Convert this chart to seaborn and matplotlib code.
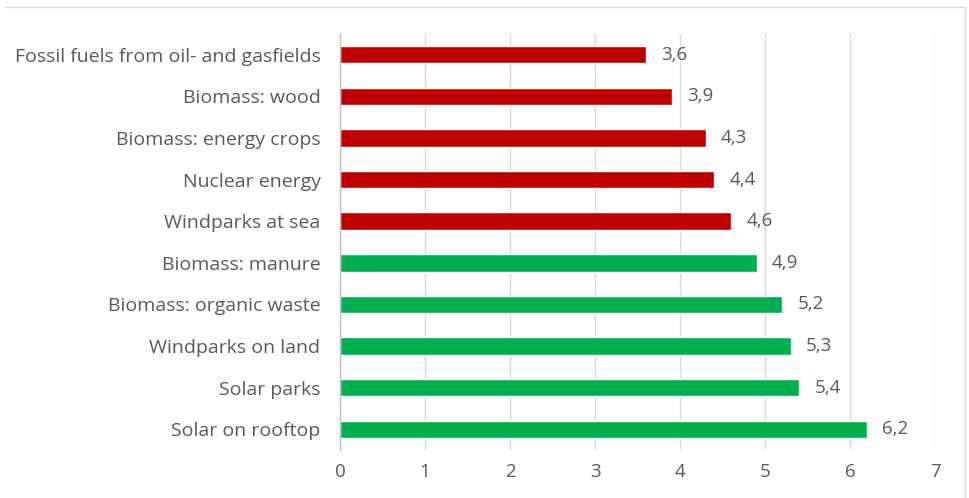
import matplotlib
matplotlib.use("Agg")
import matplotlib.pyplot as plt
import seaborn as sns
import pandas as pd
from matplotlib.lines import Line2D

categories = [
    "Fossil fuels from oil- and gasfields",
    "Biomass: wood",
    "Biomass: energy crops",
    "Nuclear energy",
    "Windparks at sea",
    "Biomass: manure",
    "Biomass: organic waste",
    "Windparks on land",
    "Solar parks",
    "Solar on rooftop",
]
values = [3.6, 3.9, 4.3, 4.4, 4.6, 4.9, 5.2, 5.3, 5.4, 6.2]
groups = ["low"] * 5 + ["high"] * 5
x_ticks = [0, 1, 2, 3, 4, 5, 6, 7]

df = pd.DataFrame({"category": categories, "value": values, "group": groups})

sns.set_style("white")
plt.rcParams["font.family"] = ["Open Sans", "DejaVu Sans"]

fig = plt.figure(figsize=(9.7, 4.98), dpi=100)
ax = fig.add_axes([0.3505, 0.096, 0.6135, 0.836])

sns.barplot(data=df, y="category", x="value", hue="group",
            palette={"low": "#C00000", "high": "#00B050"},
            order=categories, dodge=False, width=0.42, legend=False, ax=ax,
            saturation=1)

ax.set_xlim(0, 7)
ax.set_ylim(9.5, -0.5)
ax.set_xticks(x_ticks)
ax.set_xticklabels([str(t) for t in x_ticks])
ax.set_xlabel("")
ax.set_ylabel("")
ax.grid(axis="x", color="#D9D9D9", linewidth=1)
ax.set_axisbelow(True)
for s in ["top", "right", "bottom"]:
    ax.spines[s].set_visible(False)
ax.spines["left"].set_color("#BFBFBF")
ax.spines["left"].set_linewidth(1)
ax.tick_params(axis="both", length=0, labelsize=13.5, labelcolor="#595959")
ax.tick_params(axis="y", pad=14)
ax.tick_params(axis="x", pad=9)
for lbl in ax.get_yticklabels():
    lbl.set_fontsize(14)

for i, v in enumerate(values):
    ax.annotate(f"{v:.1f}".replace(".", ","), xy=(v, i), xytext=(11, 0),
                textcoords="offset points", va="center", ha="left",
                fontsize=13.5, color="#595959")

# chart border (top and right)
fig.add_artist(Line2D([0.005, 0.995], [0.986, 0.986], color="#D9D9D9", lw=1, transform=fig.transFigure))
fig.add_artist(Line2D([0.995, 0.995], [0.0, 0.986], color="#D9D9D9", lw=1, transform=fig.transFigure))

fig.savefig("out.png", dpi=100)
